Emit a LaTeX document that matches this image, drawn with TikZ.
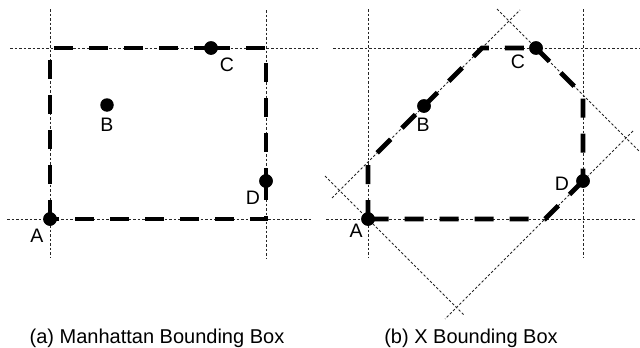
\documentclass[tikz,border=0pt]{standalone}
\usepackage{fontspec}
\setmainfont{Liberation Sans}
\begin{document}
\begin{tikzpicture}[x=1pt,y=-1pt,
  guide/.style={line width=0.9pt, dash pattern=on 2.5pt off 2pt, black!85},
  boxline/.style={line width=4.8pt, dash pattern=on 19pt off 16pt},
  dot/.style={circle, fill=black, inner sep=0pt, minimum size=13.5pt},
  lbl/.style={font=\fontsize{19.5}{22}\selectfont, inner sep=0pt},
  capt/.style={font=\fontsize{20}{24}\selectfont, anchor=base, inner sep=0pt}]
\useasboundingbox (0,0) rectangle (640,348);

% ---------- (a) Manhattan ----------
\draw[guide] (50,9) -- (50,258);
\draw[guide] (266,10) -- (266,258);
\draw[guide] (10,48) -- (318,48);
\draw[guide] (7,219) -- (312,219);

\coordinate (aTL) at (50,48);
\coordinate (aTR) at (266,48);
\coordinate (aBR) at (266,219);
\node[dot] (aA) at (50,219) {};
\node[dot] (aB) at (107,105) {};
\node[dot] (aC) at (211,48) {};
\node[dot] (aD) at (266,181) {};

\draw[boxline] (aA.center) -- (aTL) -- (aC.center);
\draw[boxline] (aC.center) -- (aTR) -- (aD.center);
\draw[boxline] (aD.center) -- (aBR) -- (aA.center);
\node[dot] at (aA) {};
\node[dot] at (aC) {};
\node[dot] at (aD) {};

\node[lbl] (aAl) at (37,236) {A};
\node[lbl] (aBl) at (107,125) {B};
\node[lbl] (aCl) at (227,65) {C};
\node[lbl] (aDl) at (253,198) {D};

\node[capt] (capa) at (157,343) {(a) Manhattan Bounding Box};

% ---------- (b) X ----------
\draw[guide] (368,9) -- (368,258);
\draw[guide] (583,9) -- (583,258);
\draw[guide] (333,48) -- (640,48);
\draw[guide] (326,219) -- (635,219);
\draw[guide] (332,198) -- (520,10);
\draw[guide] (497,9) -- (639,151);
\draw[guide] (633,131) -- (445,319);
\draw[guide] (325,176) -- (464,315);

\coordinate (bL) at (368,162);
\coordinate (bT) at (482,48);
\coordinate (bR) at (583,95);
\coordinate (bBo) at (545,219);
\node[dot] (bA) at (368,219) {};
\node[dot] (bB) at (424,106) {};
\node[dot] (bC) at (536,48) {};
\node[dot] (bD) at (583,181) {};

\draw[boxline] (bA.center) -- (bL) -- (bB.center);
\draw[boxline] (bB.center) -- (bT) -- (bC.center);
\draw[boxline] (bC.center) -- (bR) -- (bD.center);
\draw[boxline] (bD.center) -- (bBo) -- (bA.center);
\node[dot] at (bA) {};
\node[dot] at (bB) {};
\node[dot] at (bC) {};
\node[dot] at (bD) {};

\node[lbl] (bAl) at (356,231) {A};
\node[lbl] (bBl) at (423,125) {B};
\node[lbl] (bCl) at (518,62) {C};
\node[lbl] (bDl) at (562,184) {D};

\node[capt] (capb) at (471,343) {(b) X Bounding Box};
\end{tikzpicture}
\end{document}
